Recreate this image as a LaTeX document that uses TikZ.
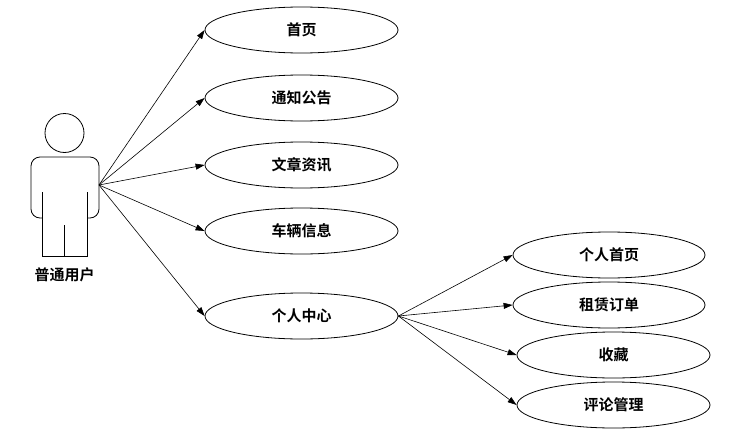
\documentclass[tikz,border=0pt]{standalone}
\usepackage{fontspec}
\newfontfamily\cjk{Noto Sans CJK SC}[BoldFont={Noto Sans CJK SC Bold}]
\usetikzlibrary{arrows.meta,shapes.geometric}
\begin{document}
\begin{tikzpicture}[x=1pt,y=-1pt,
  usecase/.style={draw,ellipse,line width=0.8pt,minimum width=193pt,minimum height=46pt,inner sep=0pt,font=\cjk\bfseries\fontsize{15}{17}\selectfont},
  conn/.style={line width=0.6pt,-{Triangle[length=9pt,width=6pt]}},
  actorline/.style={line width=0.8pt}]
\useasboundingbox (0,0) rectangle (737,434);
% actor
\draw[actorline] (64.5,133) circle (19.5);
\draw[actorline,rounded corners=9pt] (42,218) -- (31,218) -- (31,157) -- (99,157) -- (99,218) -- (87,218);
\draw[actorline] (42,192) -- (42,256) -- (87,256) -- (87,192);
\draw[actorline] (64.5,225) -- (64.5,256);
\coordinate (act) at (99,185);
\node[font=\cjk\bfseries\fontsize{15}{17}\selectfont] (actlbl) at (64.5,275) {普通用户};
% use cases
\node[usecase] (home) at (301.5,30) {首页};
\node[usecase] (notice) at (301.5,98) {通知公告};
\node[usecase] (news) at (301.5,165) {文章资讯};
\node[usecase] (car) at (301.5,231) {车辆信息};
\node[usecase] (center) at (301.5,316) {个人中心};
\node[usecase,minimum width=192pt] (phome) at (609,255) {个人首页};
\node[usecase,minimum width=192pt] (order) at (609,305) {租赁订单};
\node[usecase] (fav) at (613.5,355) {收藏};
\node[usecase] (comment) at (613.5,405) {评论管理};
% connectors
\draw[conn] (act) -- (home.west);
\draw[conn] (act) -- (notice.west);
\draw[conn] (act) -- (news.west);
\draw[conn] (act) -- (car.west);
\draw[conn] (act) -- (center.west);
\draw[conn] (center.east) -- (phome.west);
\draw[conn] (center.east) -- (order.west);
\draw[conn] (center.east) -- (fav.west);
\draw[conn] (center.east) -- (comment.west);
\end{tikzpicture}
\end{document}
